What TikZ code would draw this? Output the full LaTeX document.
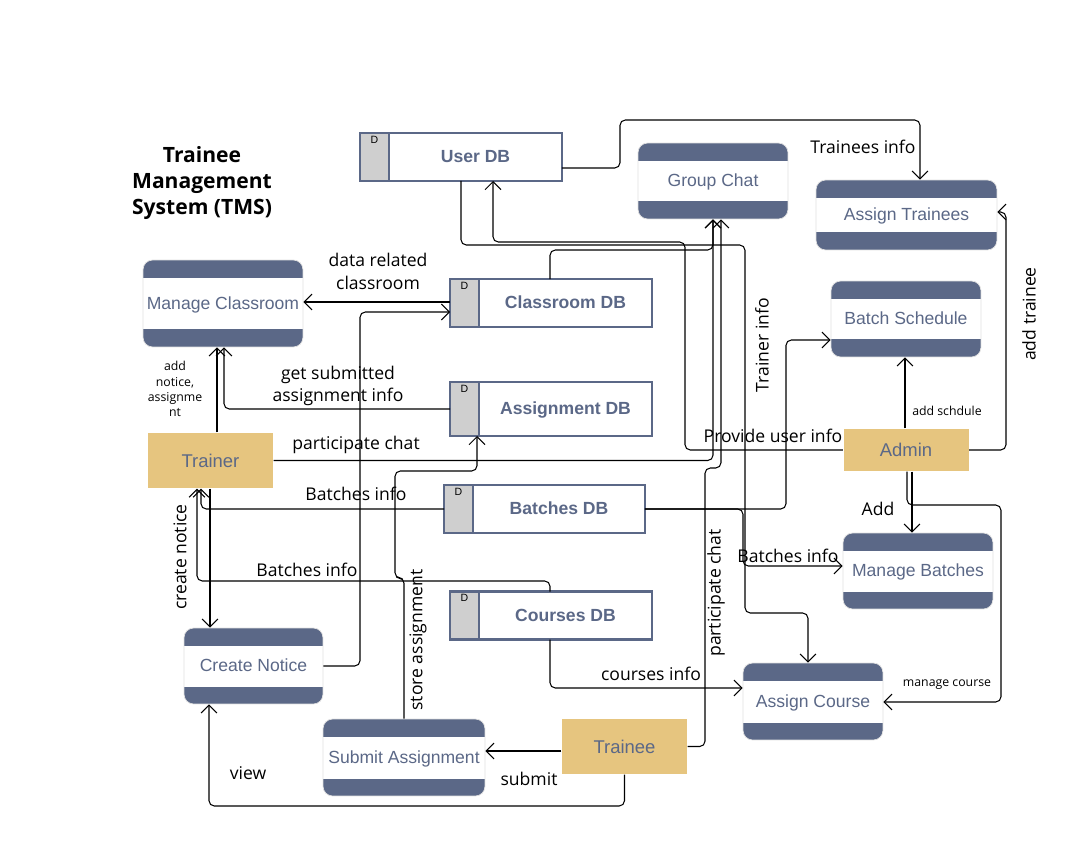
\documentclass[tikz,border=0pt]{standalone}
\usepackage{fontspec}
\setmainfont{Open Sans}
\setsansfont{Liberation Sans}
\usepackage{tikz}
\usetikzlibrary{arrows.meta}
\usetikzlibrary{calc}
\usetikzlibrary{positioning}

\definecolor{slate}{HTML}{5B6887}
\definecolor{actorfill}{HTML}{E6C57F}
\definecolor{taggrey}{HTML}{CFCFCF}

\begin{document}
\begin{tikzpicture}[>={Straight Barb[length=4.5pt,width=9pt]}, semithick, x=0.02cm, y=-0.02cm]
	\tikzstyle{flow}=[->, rounded corners=3pt]
	\tikzstyle{proc}=[rectangle, rounded corners=5.5pt, draw=black!12, thin, fill=white, text=slate, font=\sffamily\fontsize{10}{12}\selectfont, inner sep=0pt, text height=6.6pt, text depth=0pt,
		path picture={
			\fill[slate, sharp corners] (path picture bounding box.north west) rectangle ([yshift=-0.35cm]path picture bounding box.north east);
			\fill[slate, sharp corners] (path picture bounding box.south west) rectangle ([yshift=0.35cm]path picture bounding box.south east);}]
	\tikzstyle{store}=[rectangle, draw=slate, line width=1.3pt, fill=white, text=slate, font=\sffamily\bfseries\fontsize{10}{12}\selectfont, text height=6.6pt, text depth=0pt, minimum width=3.46cm, minimum height=0.96cm, outer sep=0pt]
	\tikzstyle{storetag}=[rectangle, draw=slate, line width=1.3pt, fill=taggrey, minimum width=0.58cm, minimum height=0.96cm, outer sep=0pt, label={[font=\sffamily\fontsize{6}{7}\selectfont, inner sep=1.5pt, anchor=north]north:D}]
	\tikzstyle{actor}=[rectangle, fill=actorfill, text=slate, font=\sffamily\fontsize{10.5}{12}\selectfont, minimum width=2.5cm, minimum height=1.1cm]
	\tikzstyle{lbl}=[font=\fontsize{10}{13}\selectfont, align=center, inner sep=0pt]
	\tikzstyle{smalllbl}=[font=\fontsize{7}{8.3}\selectfont, align=center, inner sep=0pt]

	\path[fill=white] (0,0) rectangle (1085,865);

	\node[font=\fontsize{12}{14.7}\selectfont\bfseries, align=center] (title) at (202,183) {Trainee\\Management\\System (TMS)};

	\node[proc, minimum width=3.2cm, minimum height=1.74cm] (mc) at (223,303.5) {Manage Classroom};
	\node[proc, minimum width=3cm, minimum height=1.52cm] (gc) at (713,181) {Group Chat};
	\node[proc, minimum width=3.62cm, minimum height=1.4cm] (atr) at (906.5,215) {Assign Trainees};
	\node[proc, minimum width=3cm, minimum height=1.52cm] (bs) at (906,319) {Batch Schedule};
	\node[proc, minimum width=3cm, minimum height=1.52cm] (mb) at (918,571) {Manage Batches};
	\node[proc, minimum width=2.8cm, minimum height=1.54cm] (ac) at (813,701.5) {Assign Course};
	\node[proc, minimum width=2.78cm, minimum height=1.52cm] (cn) at (253.5,666) {Create Notice};
	\node[proc, minimum width=3.24cm, minimum height=1.54cm] (sa) at (404,757.5) {Submit Assignment};

	\node[store] (udb) at (475.5,157) {User DB};
	\node[storetag, left=0pt of udb] (udbt) {};
	\node[store] (cdb) at (565.5,303) {Classroom DB};
	\node[storetag, left=0pt of cdb] (cdbt) {};
	\node[store, minimum height=1.08cm] (adb) at (565.5,409) {Assignment DB};
	\node[storetag, minimum height=1.08cm, left=0pt of adb] (adbt) {};
	\node[store, minimum width=3.44cm] (bdb) at (559,509) {Batches DB};
	\node[storetag, left=0pt of bdb] (bdbt) {};
	\node[store] (codb) at (565.5,615.5) {Courses DB};
	\node[storetag, left=0pt of codb] (codbt) {};

	\node[actor] (trainer) at (210.5,460.5) {Trainer};
	\node[actor, minimum height=0.84cm] (admin) at (906,450) {Admin};
	\node[actor] (trainee) at (624.5,746.5) {Trainee};

	\draw[flow] (udb.east |- 0,168) -| (620,120) -| (atr.north -| 920,0);
	\draw[flow] (udb.south -| 461,0) |- (745,245) |- (808,613) -- (ac.north -| 808,0);
	\draw[flow] (admin.west) -| (685,242) -| (udb.south -| 493,0);
	\draw[flow] (cdbt.west |- 0,302) -- (mc.east |- 0,302);
	\draw[flow] (cn.east) -| (360,312) -- (cdbt.west |- 0,312);
	\draw[flow] (cdb.north -| 550,0) |- (713,250) -- (gc.south -| 713,0);
	\draw[flow] (adbt.west) -| (mc.south -| 224,0);
	\draw[flow] (trainer.north -| 217,0) -- (mc.south -| 217,0);
	\draw[flow] (trainer.east) -| (gc.south -| 713,0);
	\draw[flow] (bdbt.west) -| (trainer.south -| 201,0);
	\draw[flow] (codb.north -| 550,0) |- (197,581) -- (trainer.south -| 197,0);
	\draw[flow] (trainer.south -| 210,0) -- (cn.north -| 210,0);
	\draw[flow] (trainee.south) |- (209,806) -- (cn.south -| 209,0);
	\draw[flow] (trainee.west |- 0,751) -- (sa.east |- 0,751);
	\draw[flow] (sa.north) |- (395,578) |- (477,471) -- (adbt.south -| 477,0);
	\draw[flow] (trainee.east) -| (705,468) -| (gc.south -| 721,0);
	\draw[flow] (codb.south -| 550,0) |- (ac.west |- 0,688);
	\draw[flow] (bdb.east) -| (786,340) -- (bs.west |- 0,340);
	\draw[flow] (bdb.east) -| (743,566) -- (mb.west |- 0,566);
	\draw[flow] (admin.north -| 905,0) -- (bs.south -| 905,0);
	\draw[flow] (admin.east) -| (1006,212) -- (atr.east |- 0,212);
	\draw[flow] (admin.south -| 912,0) -- (mb.north -| 912,0);
	\draw[flow] (admin.south -| 907,0) |- (1001,505) |- (ac.east |- 0,702);

	\node[lbl] at (863,147) {Trainees info};
	\node[lbl] at (378,271.5) {data related\\classroom};
	\node[smalllbl, font=\fontsize{7}{8.6}\selectfont] at (175,389) {add\\notice,\\assignme\\nt};
	\node[lbl] at (338,386) {get submitted\\assignment info};
	\node[lbl] at (356,445) {participate chat};
	\node[lbl] at (356,494) {Batches info};
	\node[lbl] at (307,570) {Batches info};
	\node[lbl, rotate=90] at (180,557) {create notice};
	\node[lbl, rotate=90] at (418,640) {store assignment};
	\node[lbl, rotate=90] at (716,593) {participate chat};
	\node[lbl, rotate=90] at (762,345) {Trainer info};
	\node[lbl] at (773,436) {Provide user info};
	\node[smalllbl] at (947,411) {add schdule};
	\node[lbl, rotate=90] at (1029,314) {add trainee};
	\node[lbl] at (878,509) {Add};
	\node[lbl] at (788,556) {Batches info};
	\node[smalllbl] at (947,685) {manage course};
	\node[lbl] at (651,674) {courses info};
	\node[lbl] at (248,773) {view};
	\node[lbl] at (529,779) {submit};
\end{tikzpicture}
\end{document}
